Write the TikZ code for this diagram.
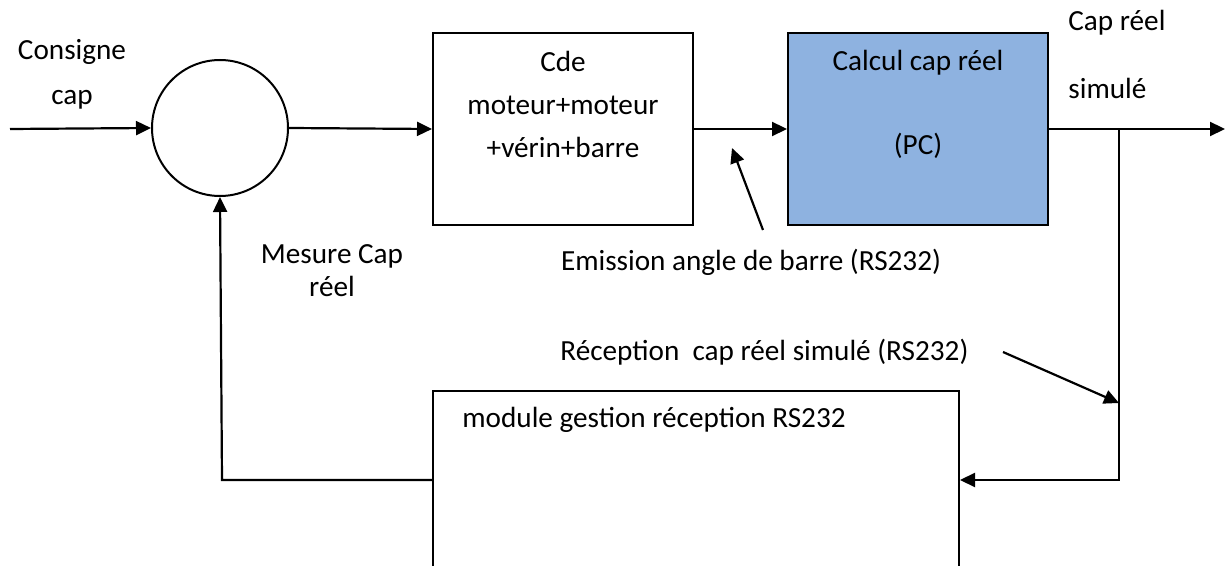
\documentclass[tikz,border=0pt]{standalone}
\usepackage{fontspec}
\setmainfont{Carlito}
\usetikzlibrary{arrows.meta}
\definecolor{pcblue}{RGB}{142,178,224}
\tikzset{
  txt/.style={inner sep=0pt, font=\fontsize{14.6}{17.5}\selectfont, align=center},
  blk/.style={draw=black, line width=1pt, minimum width=130pt, minimum height=96pt, inner sep=0pt},
  arr/.style={line width=1.1pt, -{Triangle[length=7.5pt,width=7pt]}},
  ln/.style={line width=1.1pt}
}
\begin{document}
\begin{tikzpicture}[x=0.5pt,y=-0.5pt]
\useasboundingbox (0,0) rectangle (1232,566);
\clip (0,0) rectangle (1232,566);
% blocks
\node[circle, draw=black, line width=1pt, minimum size=68pt, inner sep=0pt] (sum) at (220,128) {};
\node[blk] (b1) at (563,129) {};
\node[blk, fill=pcblue] (b2) at (918,129) {};
\node[draw=black, line width=1pt, minimum width=263pt, minimum height=124.5pt, inner sep=0pt] (b3) at (696,515.5) {};
% texts
\node[txt] (tcons) at (72,74.5) {Consigne\\[5pt]cap};
\node[txt] (tb1) at (563,104.5) {Cde\\[4pt]moteur+moteur\\[4pt]+vérin+barre};
\node[txt] (tb2) at (918,104) {Calcul cap réel\\[24.5pt](PC)};
\node[txt, anchor=west, align=left] (tout) at (1068,54) {Cap réel\\[16.5pt]simulé};
\node[txt] (tmes) at (332,271) {Mesure Cap\\[-1pt]réel};
\node[txt] (temi) at (751,262) {Emission angle de barre (RS232)};
\node[txt, anchor=west] (trec) at (560,352) {Réception\ \ cap réel simulé (RS232)};
\node[txt, anchor=west] (tmod) at (462,420) {module gestion réception RS232};
% coordinates
\coordinate (in) at (10,129);
\coordinate (out) at (1225,129);
\coordinate (br) at (1119,129);
\coordinate (rj) at (1119,480);
\coordinate (fb) at (222,480);
\coordinate (e1) at (763,230);
\coordinate (e2) at (732,148);
\coordinate (r1) at (1003,352);
\coordinate (r2) at (1119,403);
% connectors
\draw[arr] (in) -- (sum.west);
\draw[arr] (sum.east) -- (b1.west);
\draw[arr] (b1.east) -- (b2.west);
\draw[arr] (b2.east) -- (out);
\draw[arr] (br) -- (rj) -- (rj -| b3.east);
\draw[arr] (b3.west |- fb) -- (fb) -- (sum.south);
\draw[arr] (e1) -- (e2);
\draw[arr] (r1) -- (r2);
\end{tikzpicture}
\end{document}
